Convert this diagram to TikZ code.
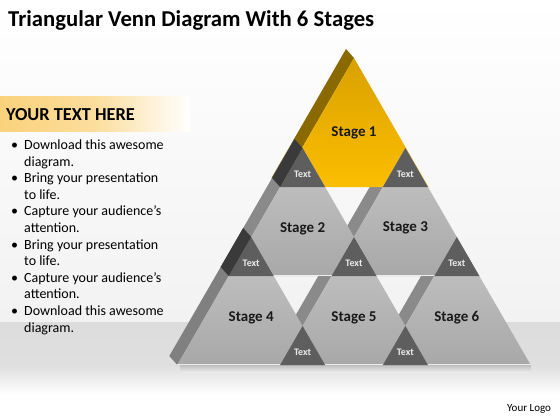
\documentclass[tikz,border=0pt]{standalone}
\usepackage{fontspec}
\setmainfont{Carlito}
\definecolor{stagetop}{HTML}{C6C6C6}
\definecolor{stagebot}{HTML}{A8A8A8}
\definecolor{stripgray}{HTML}{8A8A8A}
\definecolor{overlapgray}{HTML}{5E5E5E}
\definecolor{darkstrip}{HTML}{3A3A3A}
\definecolor{goldtop}{HTML}{D9A100}
\definecolor{goldbot}{HTML}{FCBE00}
\definecolor{goldstrip}{HTML}{8A6A00}
\definecolor{goldband}{HTML}{FBD27C}
\definecolor{bandgray}{HTML}{DCDCDC}
\definecolor{bgmid}{HTML}{F2F2F2}
\begin{document}
\begin{tikzpicture}[x=1pt,y=-1pt,
		stageface/.style={top color=stagetop, bottom color=stagebot},
		goldface/.style={top color=goldtop, bottom color=goldbot},
		stagelabel/.style={font=\fontsize{15}{18}\selectfont\bfseries, anchor=base, text=black!90},
		textlabel/.style={font=\fontsize{10}{12}\selectfont\bfseries, anchor=base, text=white!92!black},
		baseline hl/.style={white!85!gray, line width=0.8pt}]
		\useasboundingbox (0,0) rectangle (560,420);
		% background and floor
		\shade[top color=white, bottom color=bgmid] (0,0) rectangle (560,322);
		\shade[top color=bandgray, bottom color=bandgray!90!white] (0,322) rectangle (560,366);
		\shade[top color=bandgray!90!white, bottom color=white] (0,366) rectangle (560,395);
		\fill[white] (0,395) rectangle (560,420);
		\shade[left color=goldband, right color=white, middle color=goldband!75] (0,97) rectangle (190,131);
		\shade[top color=black!25, bottom color=bandgray!60!white] (180,365) rectangle (531,372);
		
		\coordinate (s1) at (354,58);
		\coordinate (s2) at (302.6,148);
		\coordinate (s3) at (405.4,148);
		\coordinate (s4) at (251.2,237);
		\coordinate (s5) at (354,237);
		\coordinate (s6) at (456.8,237);
		\coordinate (o45) at (302.6,326);
		\coordinate (o56) at (405.4,326);
		
		% side strips
		\fill[goldstrip] (s1) -- ++(-8,-9) -- ++(-74.5,129) -- ++(8,9) -- cycle;
		\fill[stripgray] (s2) -- ++(-8,-9) -- ++(-73.9,128) -- ++(8,9) -- cycle;
		\fill[stripgray] (s3) -- ++(-8,-9) -- ++(-73.9,128) -- ++(8,9) -- cycle;
		\fill[stripgray!93!black] (s4) -- ++(-8,-9) -- ++(-73.9,128) -- ++(8,9) -- cycle;
		\fill[stripgray] (s5) -- ++(-8,-9) -- ++(-73.9,128) -- ++(8,9) -- cycle;
		\fill[stripgray] (s6) -- ++(-8,-9) -- ++(-73.9,128) -- ++(8,9) -- cycle;
		
		% front faces
		\shade[goldface] (s1) -- ++(-74.5,129) -- ++(149,0) -- cycle;
		\shade[stageface] (s2) -- ++(-73.9,128) -- ++(147.8,0) -- cycle;
		\shade[stageface] (s3) -- ++(-73.9,128) -- ++(147.8,0) -- cycle;
		\shade[stageface] (s4) -- ++(-73.9,128) -- ++(147.8,0) -- cycle;
		\shade[stageface] (s5) -- ++(-73.9,128) -- ++(147.8,0) -- cycle;
		\shade[stageface] (s6) -- ++(-73.9,128) -- ++(147.8,0) -- cycle;
		\draw[baseline hl] (s2) ++(-73.9,127.6) -- ++(147.8,0);
		\draw[baseline hl] (s3) ++(-73.9,127.6) -- ++(147.8,0);
		\draw[baseline hl] (s4) ++(-73.9,127.6) -- ++(147.8,0);
		\draw[baseline hl] (s5) ++(-73.9,127.6) -- ++(147.8,0);
		\draw[baseline hl] (s6) ++(-73.9,127.6) -- ++(147.8,0);
		
		% overlaps
		\fill[overlapgray] (s2) -- ++(-22.5,39) -- ++(45,0) -- cycle;
		\fill[overlapgray] (s3) -- ++(-22.5,39) -- ++(45,0) -- cycle;
		\fill[overlapgray] (s4) -- ++(-22.5,39) -- ++(45,0) -- cycle;
		\fill[overlapgray] (s5) -- ++(-22.5,39) -- ++(45,0) -- cycle;
		\fill[overlapgray] (s6) -- ++(-22.5,39) -- ++(45,0) -- cycle;
		\fill[overlapgray] (o45) -- ++(-22.5,39) -- ++(45,0) -- cycle;
		\fill[overlapgray] (o56) -- ++(-22.5,39) -- ++(45,0) -- cycle;
		\fill[darkstrip] (s2) -- ++(-8,-9) -- ++(-22.5,39) -- ++(8,9) -- cycle;
		\fill[darkstrip] (s4) -- ++(-8,-9) -- ++(-22.5,39) -- ++(8,9) -- cycle;
		
		\node[stagelabel] (lab1) at (354,136) {Stage 1};
		\node[stagelabel] (lab2) at (302.6,232) {Stage 2};
		\node[stagelabel] (lab3) at (405.4,231) {Stage 3};
		\node[stagelabel] (lab4) at (251.2,321) {Stage 4};
		\node[stagelabel] (lab5) at (354,321) {Stage 5};
		\node[stagelabel] (lab6) at (456.8,321) {Stage 6};
		
		\node[textlabel] (txt12) at (302.6,177) {Text};
		\node[textlabel] (txt13) at (405.4,177) {Text};
		\node[textlabel] (txt24) at (251.2,266) {Text};
		\node[textlabel] (txt235) at (354,266) {Text};
		\node[textlabel] (txt36) at (456.8,266) {Text};
		\node[textlabel] (txt45) at (302.6,355) {Text};
		\node[textlabel] (txt56) at (405.4,355) {Text};
		
		\node[anchor=base west, inner sep=0, font=\fontsize{22.7}{27}\selectfont\bfseries] (title) at (8,26.7) {Triangular Venn Diagram With 6 Stages};
		\node[anchor=base west, inner sep=0, font=\fontsize{18.3}{22}\selectfont\bfseries] (head) at (6,120.7) {YOUR TEXT HERE};
		\node[anchor=base west, inner sep=0, font=\fontsize{14}{16.6}\selectfont] (bullets) at (11,149.5) {%
			\begin{tabular}[t]{@{}p{13pt}@{}l@{}}
				\textbullet & Download this awesome\\
				& diagram.\\
				\textbullet & Bring your presentation\\
				& to life.\\
				\textbullet & Capture your audience’s\\
				& attention.\\
				\textbullet & Bring your presentation\\
				& to life.\\
				\textbullet & Capture your audience’s\\
				& attention.\\
				\textbullet & Download this awesome\\
				& diagram.
			\end{tabular}};
		\node[anchor=base west, inner sep=0, font=\fontsize{11}{13}\selectfont] (logo) at (507,411) {Your Logo};
	\end{tikzpicture}
\end{document}
